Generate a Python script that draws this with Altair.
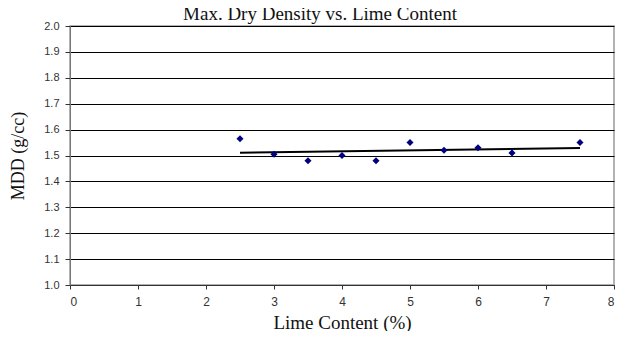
import altair as alt
import pandas as pd

lime = [2.5, 3.0, 3.5, 4.0, 4.5, 5.0, 5.5, 6.0, 6.5, 7.5]
mdd = [1.565, 1.505, 1.48, 1.50, 1.48, 1.55, 1.52, 1.53, 1.51, 1.55]
x_ticks = [0, 1, 2, 3, 4, 5, 6, 7, 8]
y_ticks = [1.0, 1.1, 1.2, 1.3, 1.4, 1.5, 1.6, 1.7, 1.8, 1.9, 2.0]

df = pd.DataFrame({"lime": lime, "mdd": mdd})

xenc = alt.X("lime:Q", scale=alt.Scale(domain=[0, 8], nice=False),
             axis=alt.Axis(values=x_ticks, format="d", title="Lime Content (%)",
                           grid=False, tickSize=4, labelPadding=7, titlePadding=6,
                           labelFontSize=12, titleFontSize=19,
                           domainColor="#333333", tickColor="#333333"))
yenc = alt.Y("mdd:Q", scale=alt.Scale(domain=[1.0, 2.0], nice=False, zero=False),
             axis=alt.Axis(values=y_ticks, format=".1f", title="MDD (g/cc)",
                           grid=True, gridColor="#000000", gridWidth=1.2,
                           tickSize=5, labelPadding=6, titlePadding=16,
                           labelOverlap=False, labelFontSize=11, titleFontSize=18,
                           domainColor="#777777", tickColor="#333333"))

base = alt.Chart(df).encode(x=xenc, y=yenc)

points = base.mark_point(shape="diamond", filled=True, color="#000080",
                         size=50, opacity=1)

trend = base.transform_regression("lime", "mdd").mark_line(
    color="#000000", strokeWidth=2)

chart = (trend + points).properties(
    width=544, height=259,
    title=alt.TitleParams("Max. Dry Density vs. Lime Content", font="Liberation Serif",
                          fontSize=19, fontWeight="normal", color="#111111",
                          anchor="middle", frame="group", dx=-22, dy=23, offset=4,
                          baseline="alphabetic"),
    autosize=alt.AutoSizeParams(type="none"),
    padding={"left": 62, "top": 18, "right": 1, "bottom": 46},
).configure_view(stroke="#999999", strokeWidth=1.5).configure_axis(
    labelFont="Liberation Sans", labelColor="#333333",
    titleFont="Liberation Serif", titleFontWeight="normal",
    titleColor="#111111"
)

chart.save("out.html", embed_options={"renderer": "svg", "actions": False})
